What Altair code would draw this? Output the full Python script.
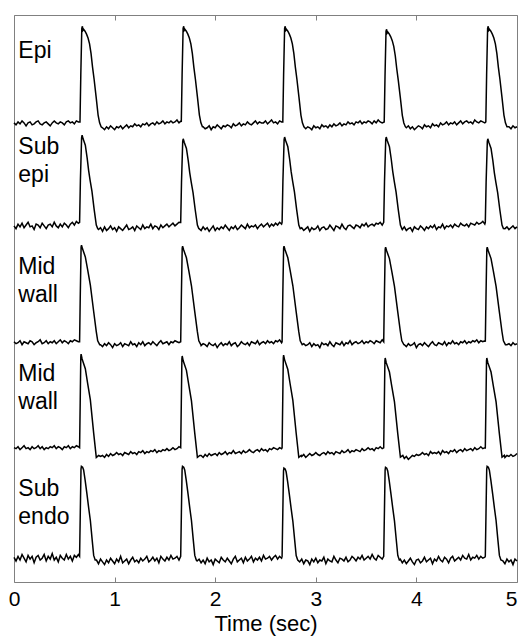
import math
import altair as alt
import pandas as pd

# ---------------- data ----------------
ROW_NAMES = ["Epi", "Sub epi", "Mid wall", "Mid wall", "Sub endo"]
LABEL_TEXT = ["Epi", "Sub\nepi", "Mid\nwall", "Mid\nwall", "Sub\nendo"]
LABEL_X = [0.043, 0.043, 0.043, 0.043, 0.043]
LABEL_Y = [462, 377, 272, 177, 76]

# resting level and action-potential amplitude of every trace (y units)
BASELINE = [404, 314, 211, 115, 21]
AMPLITUDE = [86, 80, 86, 86, 81]

# upstroke times (s)
ONSETS = [
    [0.656, 1.663, 2.672, 3.680, 4.690],
    [0.652, 1.657, 2.665, 3.675, 4.685],
    [0.652, 1.657, 2.665, 3.675, 4.685],
    [0.652, 1.657, 2.665, 3.675, 4.685],
    [0.652, 1.657, 2.665, 3.675, 4.685],
]
# peak size of each beat relative to the first
BEAT_SCALE = [
    [1.00, 1.00, 1.00, 0.97, 1.00],
    [1.00, 0.96, 0.98, 0.98, 0.96],
    [1.00, 0.99, 0.99, 0.98, 0.98],
    [1.00, 0.98, 0.99, 0.96, 0.96],
    [1.00, 1.00, 0.98, 0.99, 1.00],
]

# action-potential shape: time after upstroke (s) and level (% of amplitude)
AP_DT = [
    [0.000, 0.008, 0.018, 0.024, 0.030, 0.036, 0.050, 0.065, 0.080, 0.095, 0.110, 0.125, 0.140, 0.160, 0.180, 0.195, 0.210],
    [0.000, 0.008, 0.020, 0.025, 0.035, 0.057, 0.075, 0.090, 0.105, 0.123, 0.145, 0.166, 0.180],
    [0.000, 0.007, 0.015, 0.019, 0.030, 0.057, 0.080, 0.107, 0.140, 0.165, 0.180, 0.200],
    [0.000, 0.006, 0.012, 0.015, 0.025, 0.057, 0.080, 0.107, 0.140, 0.166, 0.190],
    [0.000, 0.007, 0.014, 0.018, 0.030, 0.040, 0.055, 0.073, 0.090, 0.107, 0.125, 0.140, 0.155],
]
AP_LEVEL = [
    [2, 50, 98, 100, 96, 97, 95, 92, 88, 82, 72, 58, 46, 28, 9, 1, -3],
    [4, 50, 97, 100, 96, 89, 75, 61, 50, 38, 18, 1, -3],
    [1, 50, 98, 100, 96, 88, 75, 59, 32, 12, 2, -2],
    [4, 50, 97, 100, 95, 85, 70, 53, 19, -6, -4],
    [2, 50, 97, 100, 99, 96, 85, 70, 55, 41, 20, 3, -2],
]

# resting-line wiggle (% of amplitude) every 0.02 s:
# [before first beat, after beat 1, after beat 2, after beat 3, after beat 4, after beat 5]
EPI_REST = [
    [1, -1, 2, 0, 3, 1, -2, 1, 2, -1, 0, 2, 3, 0, -1, 1, 2, 0, -2, 1, 3, 1, 0, 2, 1, -1, 2, 3, 1, 2, 0, 3, 2],
    [-4, -6, -3, -5, -2, -4, -6, -3, -4, -2, -5, -3, -1, -4, -2, -3, 0, -2, -1, -3, 0, -1, 1, -2, 0, 1, -1, 2, 0, 1, 3, 0, 2, 1, 3, 1, 2, 4, 1, 3, 2, 3, 1],
    [-3, -5, -4, -2, -6, -3, -4, -1, -3, -5, -2, -3, -1, -2, -4, 0, -2, -1, 1, -2, 0, -1, 2, 0, -1, 1, 3, 0, 2, 1, 1, 3, 0, 2, 4, 1, 2, 0, 3, 2, 1, 3, 2],
    [-5, -3, -4, -6, -2, -4, -3, -5, -1, -3, -2, -4, -1, -3, 0, -2, -1, 1, -2, 0, -1, 2, 0, 1, -1, 2, 1, 3, 0, 2, 1, 3, 2, 0, 3, 1, 4, 2, 1, 3, 2, 1, 2],
    [-4, -2, -5, -3, -6, -4, -2, -3, -5, -1, -3, -2, -4, 0, -2, -1, -3, 1, -1, 0, 2, -1, 1, 0, 2, -1, 1, 3, 0, 2, 3, 1, 2, 0, 4, 2, 1, 3, 2, 1, 3, 2, 1],
    [-3, -5, -2, -4, -3, -1, -4, -2],
]
SUBEPI_REST = [
    [0, -3, 2, -1, 3, -2, 1, 4, -1, 0, -4, 2, 1, -2, 3, 0, -3, 1, 2, -1, 4, 0, -2, 2, -1, 3, 1, -2, 2, 4, 1, 5, 3],
    [-4, -2, -6, -1, -5, -3, 0, -4, -2, -6, -1, -3, -5, -2, 1, -4, -3, -1, -5, 0, -2, -4, 1, -3, -1, -2, 2, -3, 0, -1, -4, 1, -2, 0, 2, -1, 1, 3, 0, 2, 4, 3, 5],
    [-3, -5, -1, -4, -2, -6, -3, 0, -5, -2, -4, -1, -3, 1, -2, -5, -1, -3, 0, -4, -2, 1, -1, -3, 2, -2, 0, -1, 1, -3, 0, 2, -1, 1, 3, -1, 2, 0, 3, 1, 4, 2, 4],
    [-2, -5, -3, -1, -6, -2, -4, -3, 0, -5, -2, -1, -4, -3, 1, -2, -5, 0, -1, -3, 2, -2, -4, 0, 1, -1, -3, 1, 0, -2, 2, 0, 3, -1, 1, 2, 0, 3, 2, 4, 1, 3, 5],
    [-4, -1, -5, -3, -2, -6, -1, -3, -4, 0, -2, -5, -1, -3, 0, -2, 1, -4, -1, -2, 2, -3, 0, -1, 1, -2, 2, 0, -1, 3, 1, 0, 2, -1, 3, 2, 1, 4, 2, 3, 5, 2, 4],
    [-3, -1, -4, -2, 0, -3, -1, -2],
]
MID1_REST = [
    [1, -1, 0, 2, -2, 1, 0, -1, 2, 1, -2, 0, 1, 3, -1, 0, 2, -1, 1, 0, 2, -1, 1, 3, 0, 2, 1, -1, 2, 1, 3, 2, 1],
    [-2, -4, -1, -3, 0, -2, -5, -1, -3, -2, 0, -4, -1, -2, -3, 1, -2, -1, -4, 0, -2, 1, -3, -1, 0, -2, 1, -1, -3, 0, 2, -1, 0, 1, -2, 1, 0, 2, 1, 0, 2, 1, 3],
    [-3, -1, -2, -4, 0, -2, -3, -1, -5, -2, 0, -3, -1, -2, 1, -3, -1, 0, -4, -2, 1, -1, -2, 0, -3, 1, 0, -1, 2, -2, 0, 1, -1, 2, 0, 1, -1, 2, 1, 3, 0, 2, 1],
    [-1, -3, -2, 0, -4, -1, -3, -2, -5, 0, -2, -1, -3, 1, -2, -4, 0, -1, -2, 1, -3, 0, -1, 2, -2, 0, 1, -1, 0, 2, -1, 1, 0, 2, 1, -1, 2, 1, 0, 3, 1, 2, 1],
    [-2, -4, -1, -3, -2, 0, -5, -2, -1, -3, 0, -2, -4, -1, 1, -2, -3, 0, -1, -2, 1, -3, 0, -1, 2, -1, 0, -2, 1, 0, 2, -1, 1, 0, 2, 1, 3, 0, 2, 1, 2, 3, 1],
    [-2, -1, -3, 0, -2, -1, -3, -1],
]
MID2_REST = [
    [4, 3, 5, 2, 4, 6, 3, 4, 2, 5, 3, 4, 6, 3, 5, 2, 4, 3, 5, 4, 6, 3, 5, 4, 2, 5, 4, 6, 3, 5, 4, 6, 5],
    [-5, -4, -6, -3, -5, -2, -4, -3, -1, -3, -2, -4, -1, -2, -3, 0, -2, -1, -3, 0, -1, 1, -2, 0, -1, 1, 0, 2, -1, 1, 0, 2, 1, 3, 1, 2, 4, 2, 3, 5, 3, 4, 5],
    [-4, -6, -3, -5, -2, -4, -3, -2, -4, -1, -3, -2, 0, -3, -1, -2, 1, -2, -1, 0, -2, 1, -1, 0, 2, 0, -1, 1, 2, 0, 3, 1, 2, 0, 3, 2, 4, 3, 2, 4, 3, 5, 4],
    [-5, -3, -6, -4, -2, -4, -3, -1, -3, -4, -2, -1, -3, 0, -2, -1, -3, 0, -1, -2, 1, -1, 0, 2, -1, 1, 0, 2, 1, 0, 3, 1, 2, 4, 2, 3, 1, 4, 3, 5, 3, 4, 4],
    [-7, -5, -8, -6, -4, -5, -3, -4, -3, -1, -3, -2, -4, 0, -2, -1, -2, 0, -3, 1, -1, 0, -2, 1, 0, 2, -1, 1, 2, 0, 3, 1, 2, 3, 1, 4, 2, 3, 5, 3, 4, 3, 5],
    [-6, -4, -5, -3, -5, -4, -2, -3],
]
SUBENDO_REST = [
    [1, -3, 2, -2, 4, 0, -4, 3, -1, 2, -5, 1, 3, -2, 0, 4, -3, 2, -1, 5, -2, 1, -4, 3, 0, -2, 4, -1, 2, -3, 3, 1, 4],
    [-2, -6, -1, -4, -7, -2, -5, 0, -3, -6, -1, -4, 2, -5, -3, -1, -6, -2, 1, -4, -2, -5, 0, -3, -1, 2, -4, -2, 1, -3, 0, -5, 2, -1, -3, 1, -2, 3, -1, 0, 2, -2, 1],
    [-3, -1, -5, -2, -6, 0, -4, -2, -7, -1, -3, -5, 1, -2, -4, 0, -3, -6, -1, 2, -4, -2, 0, -5, 1, -3, -1, 2, -4, 0, -2, 1, -3, 3, -1, 0, 2, -2, 1, 3, -1, 2, 0],
    [-4, -1, -6, -2, -3, -7, -1, -4, 0, -5, -2, -3, 1, -6, -1, -3, -4, 2, -2, -5, 0, -1, -3, 1, -4, -2, 2, 0, -3, 1, -1, 3, -2, 0, 2, -1, 4, 0, -2, 3, 1, -1, 2],
    [-1, -5, -2, -6, -3, 0, -4, -7, -2, -1, -5, -3, 1, -4, -2, 0, -6, -1, -3, 2, -2, -4, 1, -1, -5, 0, 2, -3, -1, 1, -2, 3, 0, -1, 4, -2, 1, 0, 3, -1, 2, 0, 1],
    [-3, -6, -1, -4, -2, -7, -1, -3],
]
REST = [EPI_REST, SUBEPI_REST, MID1_REST, MID2_REST, SUBENDO_REST]

X_TICKS = [0, 1, 2, 3, 4, 5]
STEP = 0.02
T_END = 5.0

# ---------------- build the traces ----------------
records = []
for r in range(5):
    ons = ONSETS[r]
    ap_end = AP_DT[r][-1]
    rest = REST[r]
    pts = []
    for k, v in enumerate(rest[0]):
        t = k * STEP
        if t < ons[0]:
            pts.append((t, v))
    for j in range(5):
        for dt, lv in zip(AP_DT[r], AP_LEVEL[r]):
            pts.append((ons[j] + dt, lv * BEAT_SCALE[r][j]))
        k0 = math.floor((ons[j] + ap_end) / STEP + 1e-9) + 1
        nxt = ons[j + 1] if j < 4 else T_END + 1e-6
        for k, v in enumerate(rest[j + 1]):
            t = (k0 + k) * STEP
            if t < nxt and t <= T_END + 1e-9:
                pts.append((t, v))
    for t, lv in pts:
        records.append({"trace": r, "t": round(t, 4),
                        "v": BASELINE[r] + AMPLITUDE[r] * lv / 100.0})

df = pd.DataFrame(records)
labels = pd.DataFrame({"x": LABEL_X, "y": LABEL_Y, "label": LABEL_TEXT})

FONT = "Liberation Sans"
GRAY = "#808080"

xscale = alt.Scale(domain=[0, 5], nice=False)
yscale = alt.Scale(domain=[0, 500], nice=False, zero=False)

lines = alt.Chart(df).mark_line(color="black", strokeWidth=1.5).encode(
    x=alt.X("t:Q", scale=xscale,
            axis=alt.Axis(orient="bottom", values=X_TICKS, format="d", tickSize=5, offset=-5,
                          domain=False, grid=False, tickColor=GRAY, tickWidth=1,
                          labelFlush=False,
                          labelAlign={"expr": "datum.value >= 5 ? 'right' : 'center'"},
                          labelFont=FONT, labelFontSize=21, labelColor="black",
                          labelPadding=6, title="Time (sec)", titleFont=FONT, titleFontSize=22,
                          titleFontWeight="normal", titleColor="black", titlePadding=4)),
    y=alt.Y("v:Q", scale=yscale, axis=None),
    detail="trace:N",
    order="t:Q",
)

texts = alt.Chart(labels).mark_text(align="left", baseline="alphabetic", font=FONT,
                                    fontSize=23, lineBreak="\n", lineHeight=28, color="black").encode(
    x=alt.X("x:Q", scale=xscale,
            axis=alt.Axis(orient="top", values=X_TICKS, labels=False, tickSize=5, offset=-5,
                          domain=False, grid=False, tickColor=GRAY, tickWidth=1, title=None)),
    y=alt.Y("y:Q", scale=yscale, axis=None),
    text="label:N",
)

chart = alt.layer(lines, texts).resolve_axis(x="independent").properties(
    width=503, height=567,
    autosize=alt.AutoSizeParams(type="none"),
    padding={"left": 6, "top": 7, "right": 1, "bottom": 54},
).configure_view(stroke=GRAY, strokeWidth=1)

chart.save("out.html", embed_options={"renderer": "svg", "actions": False})
